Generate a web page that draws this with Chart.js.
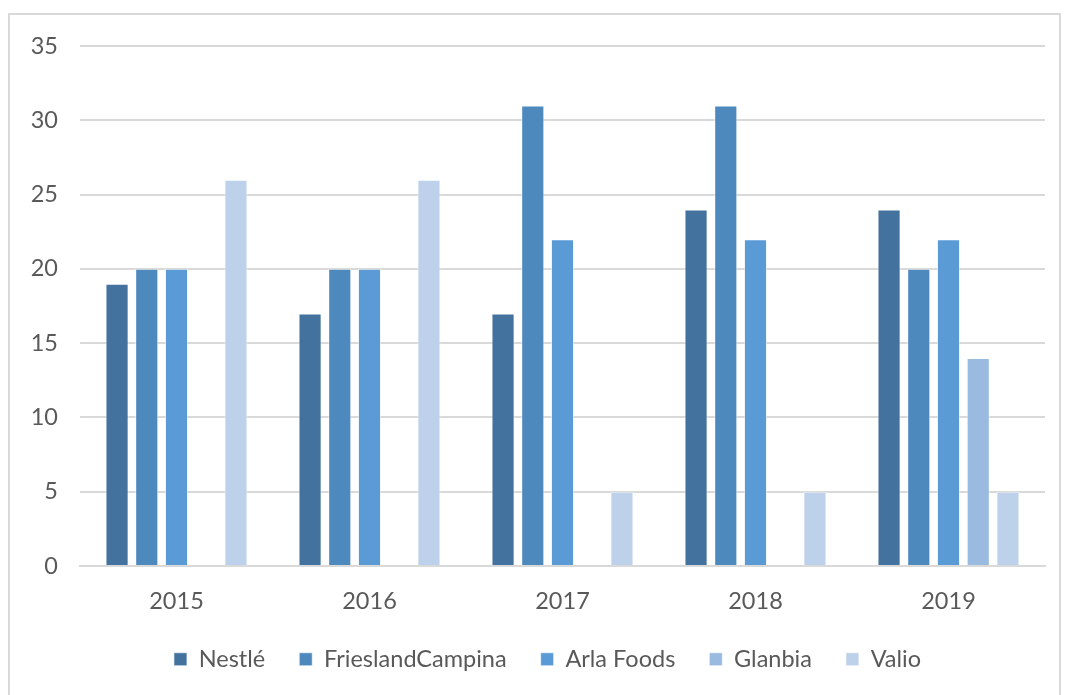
<!DOCTYPE html>
<html><head><meta charset="utf-8">
<script src="https://cdn.jsdelivr.net/npm/chart.js@4/dist/chart.umd.min.js"></script>
<style>
html,body{margin:0;padding:0;background:#fff;overflow:hidden;}
#frame{position:absolute;left:8px;top:13px;width:1053px;height:720px;border:2px solid #d9d9d9;box-sizing:border-box;}
#wrap{position:absolute;left:0;top:0;width:1067px;height:695px;}
</style></head>
<body>
<div id="frame"></div>
<div id="wrap"><canvas id="c" width="1067" height="695"></canvas></div>
<script>
const categories = ["2015","2016","2017","2018","2019"];
const nestle = [19,17,17,24,24];
const friesland = [20,20,31,31,20];
const arla = [20,20,22,22,22];
const glanbia = [null,null,null,null,14];
const valio = [26,26,5,5,5];
const seriesNames = ["Nestlé","FrieslandCampina","Arla Foods","Glanbia","Valio"];
const colors = ["#43729E","#4E89BD","#5B9BD5","#9BBAE0","#BDD1EA"];
const yTicks = [0,5,10,15,20,25,30,35];

const font = "Lato, 'Open Sans', sans-serif";
const values = [nestle, friesland, arla, glanbia, valio];
const shiftLegend = {
  id: 'shiftLegend',
  afterLayout(chart) {
    const lg = chart.legend;
    if (lg) { lg.left += 50; lg.width -= 50; }
  }
};
new Chart(document.getElementById('c'), {
  type: 'bar',
  data: {
    labels: categories,
    datasets: values.map((v,i)=>({
      label: seriesNames[i], data: v, backgroundColor: colors[i],
      borderColor: 'rgba(255,255,255,0.6)', borderWidth: 1,
      categoryPercentage: 0.77, barPercentage: 0.78
    }))
  },
  plugins: [shiftLegend],
  options: {
    responsive: false, animation: false,
    layout: {padding: {left: 0, right: 22, top: 46, bottom: 14}},
    plugins: {
      legend: {position: 'bottom',
        labels: {boxWidth: 13, boxHeight: 13, padding: 34, color: '#595959', font: {family: font, size: 23.5, lineHeight: 1.0}}},
      tooltip: {enabled: false}
    },
    scales: {
      x: {grid: {display: false, drawTicks: false},
          afterFit: s => { s.height = 47.5; },
          border: {color: '#d9d9d9', width: 2},
          ticks: {color: '#595959', padding: 24, font: {family: font, size: 23.5, lineHeight: 1.0}}},
      y: {min: 0, max: 35,
          afterFit: s => { s.width = 80; },
          afterBuildTicks: s => { s.ticks = yTicks.map(v=>({value:v})); },
          grid: {color: '#d9d9d9', lineWidth: 2, drawTicks: false},
          border: {display: false},
          ticks: {color: '#595959', padding: 22, font: {family: font, size: 23.5}}}
    }
  }
});
</script>
</body></html>
